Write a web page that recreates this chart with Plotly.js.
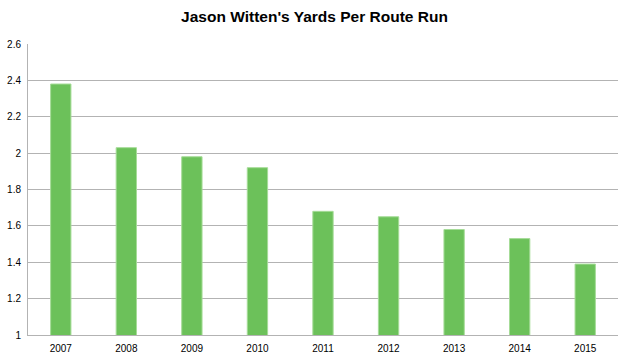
<!DOCTYPE html>
<html><head><meta charset="utf-8">
<script src="https://cdn.plot.ly/plotly-3.0.1.min.js"></script>
<style>html,body{margin:0;padding:0;background:#fff}</style>
</head><body>
<div id="chart" style="width:629px;height:359px"></div>
<script>
const years = ['2007','2008','2009','2010','2011','2012','2013','2014','2015'];
const yprr = [2.38, 2.03, 1.98, 1.92, 1.68, 1.65, 1.58, 1.53, 1.39];
const yTicks = [1, 1.2, 1.4, 1.6, 1.8, 2, 2.2, 2.4, 2.6];
const yTickText = ['1', '1.2', '1.4', '1.6', '1.8', '2', '2.2', '2.4', '2.6'];

Plotly.newPlot('chart', [{
  type: 'bar', x: years, y: yprr,
  marker: {color: '#6cc15a', line: {color: '#a6dc98', width: 1}},
  hoverinfo: 'skip'
}], {
  width: 629, height: 359,
  margin: {l: 28, r: 11, t: 44, b: 24},
  paper_bgcolor: '#fff', plot_bgcolor: '#fff',
  title: {text: "<b>Jason Witten's Yards Per Route Run</b>", x: 0.5, xanchor: 'center', y: 0.953, yanchor: 'middle',
          font: {family: 'Liberation Sans, Arial, sans-serif', size: 15.5, color: '#000'}},
  bargap: 0.69,
  showlegend: false,
  xaxis: {type: 'category', showgrid: false, showline: true, linecolor: '#b3b3b3', linewidth: 1,
          ticks: '', ticklabelstandoff: 4,
          tickfont: {family: 'Liberation Sans, Arial, sans-serif', size: 10, color: '#000'}, fixedrange: true},
  yaxis: {range: [1, 2.6], tickmode: 'array', tickvals: yTicks, ticktext: yTickText,
          showgrid: true, gridcolor: '#b3b3b3', gridwidth: 1, showline: true, linecolor: '#b3b3b3', zeroline: false,
          ticks: '', ticklabelstandoff: 4,
          tickfont: {family: 'Liberation Sans, Arial, sans-serif', size: 10, color: '#000'}, fixedrange: true}
}, {displayModeBar: false, staticPlot: true});
</script>
</body></html>
